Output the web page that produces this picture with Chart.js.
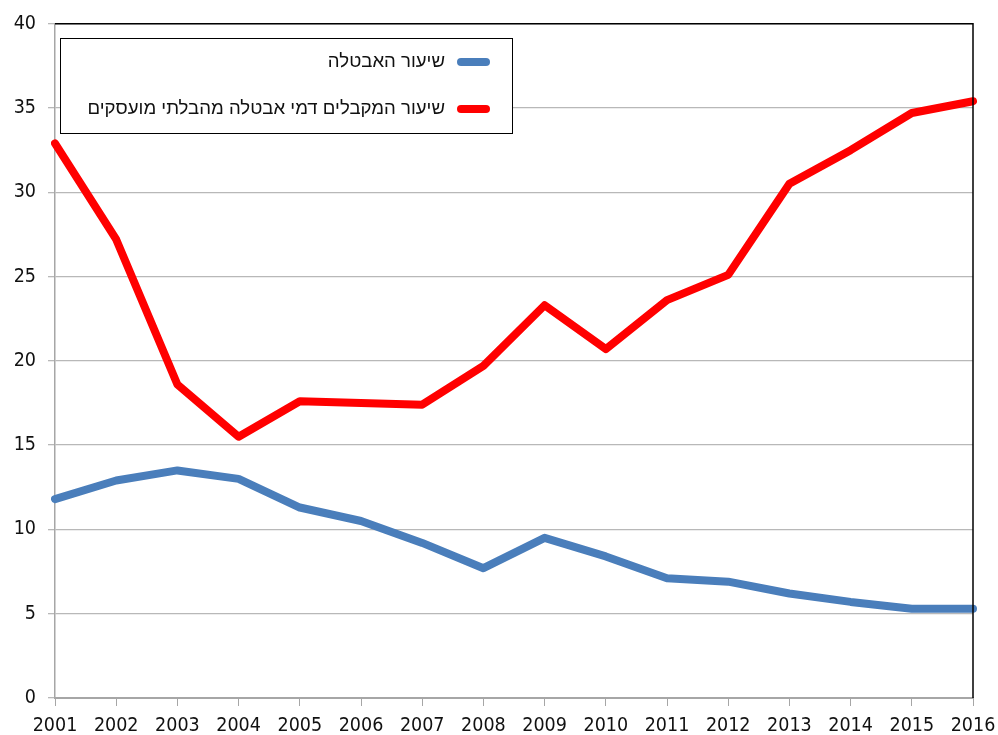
<!DOCTYPE html>
<html>
<head>
<meta charset="utf-8">
<script src="https://cdn.jsdelivr.net/npm/chart.js@4.4.1/dist/chart.umd.min.js"></script>
<style>
  html, body { margin: 0; padding: 0; background: #fff; }
  #wrap { width: 998px; height: 735px; }
</style>
</head>
<body>
<div id="wrap"><canvas id="chart" width="998" height="735"></canvas></div>
<script>
// data
const years = ['2001', '2002', '2003', '2004', '2005', '2006', '2007', '2008',
  '2009', '2010', '2011', '2012', '2013', '2014', '2015', '2016'];
const unemploymentRate = [11.8, 12.9, 13.5, 13.0, 11.3, 10.5, 9.2, 7.7,
  9.5, 8.4, 7.1, 6.9, 6.2, 5.7, 5.3, 5.3];
const benefitRate = [32.9, 27.2, 18.6, 15.5, 17.6, 17.5, 17.4, 19.7,
  23.3, 20.7, 23.6, 25.1, 30.5, 32.5, 34.7, 35.4];
const labels = ['שיעור האבטלה', 'שיעור המקבלים דמי אבטלה מהבלתי מועסקים'];

const TICK_FONT = { family: '"DejaVu Sans Condensed", "DejaVu Sans", sans-serif', size: 19.5 };

// frame: black top/right border + legend box drawn inside the plot
const framePlugin = {
  id: 'frame',
  afterDraw(chart) {
    const { ctx, chartArea: a } = chart;
    ctx.save();
    ctx.strokeStyle = '#000';
    ctx.lineWidth = 1.5;
    ctx.beginPath();
    ctx.moveTo(a.left, a.top);
    ctx.lineTo(a.right, a.top);
    ctx.lineTo(a.right, a.bottom);
    ctx.stroke();

    // legend
    const box = { x: 60, y: 38, w: 452, h: 95 };
    ctx.fillStyle = '#fff';
    ctx.fillRect(box.x, box.y, box.w, box.h);
    ctx.strokeStyle = '#000';
    ctx.lineWidth = 1;
    ctx.strokeRect(box.x + 0.5, box.y + 0.5, box.w, box.h);
    ctx.font = '18.6px "Liberation Sans", Arial, sans-serif';
    ctx.textAlign = 'right';
    ctx.textBaseline = 'middle';
    ctx.direction = 'rtl';
    const rows = [62, 109];
    chart.data.datasets.forEach((ds, i) => {
      const y = rows[i];
      ctx.strokeStyle = ds.borderColor;
      ctx.lineWidth = 8;
      ctx.lineCap = 'round';
      ctx.beginPath();
      ctx.moveTo(461, y);
      ctx.lineTo(486, y);
      ctx.stroke();
      ctx.fillStyle = '#111';
      ctx.fillText(ds.label, 445, y);
    });
    ctx.restore();
  }
};

new Chart(document.getElementById('chart'), {
  type: 'line',
  data: {
    labels: years,
    datasets: [{
      label: labels[0],
      data: unemploymentRate,
      borderColor: '#4a7ebb',
      borderWidth: 8,
      borderCapStyle: 'round',
      borderJoinStyle: 'round',
      pointRadius: 0,
      tension: 0
    }, {
      label: labels[1],
      data: benefitRate,
      borderColor: '#ff0000',
      borderWidth: 8,
      borderCapStyle: 'round',
      borderJoinStyle: 'round',
      pointRadius: 0,
      tension: 0
    }]
  },
  options: {
    responsive: false,
    animation: false,
    layout: { padding: { top: 23, right: 0, left: 0, bottom: 0 } },
    plugins: {
      legend: { display: false },
      tooltip: { enabled: false }
    },
    scales: {
      x: {
        offset: false,
        grid: { drawOnChartArea: false, color: '#a6a6a6', tickLength: 8, lineWidth: 1 },
        border: { color: '#a6a6a6', width: 2 },
        ticks: { color: '#111', font: TICK_FONT, maxRotation: 0, autoSkip: false, padding: 8 },
        afterFit(scale) {
          scale.height = 37;
          scale.paddingLeft = 0;
          scale.paddingRight = 25;
        }
      },
      y: {
        min: 0,
        max: 40,
        ticks: { stepSize: 5, color: '#111', font: TICK_FONT, padding: 12 },
        grid: { color: '#b8b8b8', lineWidth: 1.3, tickLength: 7 },
        border: { color: '#a6a6a6', width: 1.5 },
        afterFit(scale) { scale.width = 55; }
      }
    }
  },
  plugins: [framePlugin]
});
</script>
</body>
</html>
